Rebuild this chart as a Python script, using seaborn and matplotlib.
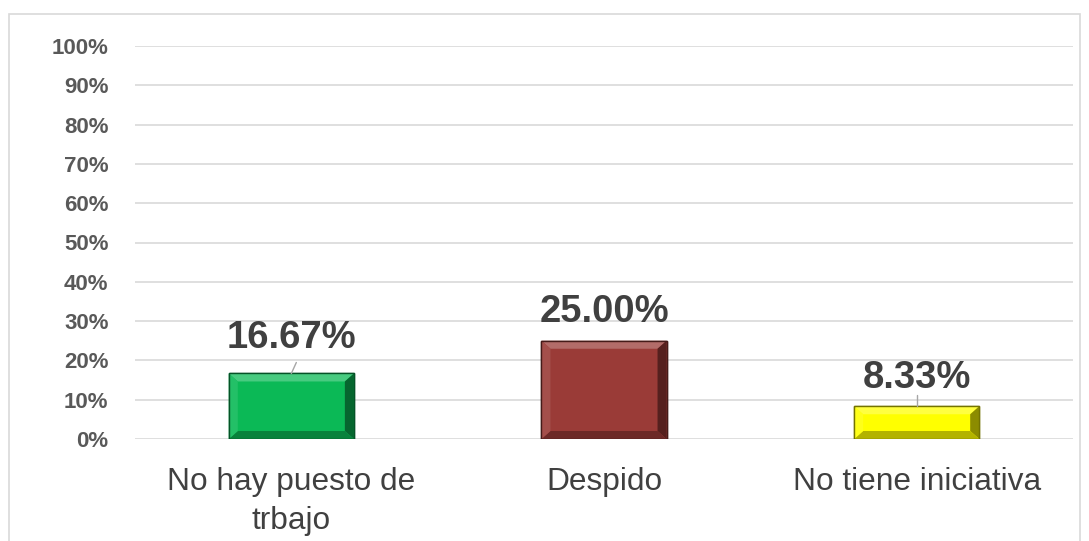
import seaborn as sns
import pandas as pd
import matplotlib.pyplot as plt
from matplotlib.patches import Rectangle, Polygon
import matplotlib.colors as mcolors

categorias = ["No hay puesto de\ntrbajo", "Despido", "No tiene iniciativa"]
valores = [0.1667, 0.25, 0.0833]
etiquetas = ["16.67%", "25.00%", "8.33%"]
colores = ["#0BB956", "#9A3B37", "#FFFF00"]
ticks_y = [i / 10 for i in range(11)]
# altura del centro de cada etiqueta de datos
pos_etiquetas = [0.258, 0.324, 0.156]
con_guia = [True, False, True]

df = pd.DataFrame({"cat": categorias, "val": valores})

sns.set_style("white")
plt.rcParams["font.family"] = ["Liberation Sans", "DejaVu Sans"]

fig = plt.figure(figsize=(10.89, 5.41), dpi=100)
# marco exterior gris claro
fig.patches.append(Rectangle((9 / 1089, -0.01), 1071 / 1089, (541 - 14) / 541 + 0.01,
                             transform=fig.transFigure, fill=False,
                             edgecolor="#D9D9D9", linewidth=1.2))

ax = fig.add_axes([135 / 1089, (541 - 439) / 541, 938 / 1089, 393 / 541])
sns.barplot(data=df, x="cat", y="val", hue="cat", palette=colores, saturation=1,
            legend=False, width=0.4, ax=ax, zorder=3)
ax.set_xlim(-0.5, 2.5)
ax.set_ylim(0, 1)


def tono(c, f):
    r, g, b = mcolors.to_rgb(c)
    if f >= 0:
        return (r + (1 - r) * f, g + (1 - g) * f, b + (1 - b) * f)
    return (r * (1 + f), g * (1 + f), b * (1 + f))


# efecto biselado
bx = 9 / 312.5
by = 8 / 393
for barra, c in zip(list(ax.patches), colores):
    x0, y0 = barra.get_x(), barra.get_y()
    x1, y1 = x0 + barra.get_width(), y0 + barra.get_height()
    barra.set_edgecolor(tono(c, -0.55))
    barra.set_linewidth(1.0)
    caras = [
        ([(x0, y1), (x1, y1), (x1 - bx, y1 - by), (x0 + bx, y1 - by)], tono(c, 0.25)),
        ([(x1, y1), (x1, y0), (x1 - bx, y0 + by), (x1 - bx, y1 - by)], tono(c, -0.45)),
        ([(x0, y0), (x1, y0), (x1 - bx, y0 + by), (x0 + bx, y0 + by)], tono(c, -0.3)),
        ([(x0, y0), (x0, y1), (x0 + bx, y1 - by), (x0 + bx, y0 + by)], tono(c, 0.1)),
    ]
    for pts, col in caras:
        ax.add_patch(Polygon(pts, closed=True, facecolor=col, edgecolor="none", zorder=3.5))
    ax.add_patch(Rectangle((x0, y0), x1 - x0, y1 - y0, fill=False,
                           edgecolor=tono(c, -0.55), linewidth=1.0, zorder=3.6))

ax.set_yticks(ticks_y)
ax.set_yticklabels([f"{int(t * 100)}%" for t in ticks_y],
                   fontsize=16, fontweight="bold", color="#595959")
ax.tick_params(axis="y", length=0, pad=19)
ax.tick_params(axis="x", length=0, pad=20, labelsize=22.8, labelcolor="#404040")
for lbl in ax.get_xticklabels():
    lbl.set_linespacing(1.38)
ax.yaxis.grid(True, color="#D9D9D9", linewidth=1.2, zorder=0)
ax.set_xlabel("")
ax.set_ylabel("")
for s in ax.spines.values():
    s.set_visible(False)

# etiquetas de datos y lineas guia
for i, (v, txt, ty, guia) in enumerate(zip(valores, etiquetas, pos_etiquetas, con_guia)):
    ax.text(i, ty, txt, ha="center", va="center", fontsize=27.5,
            fontweight="bold", color="#404040", zorder=4)
    if guia:
        ax.plot([i, i + (0.016 if i == 0 else 0)], [v, v + 0.028],
                color="#A6A6A6", linewidth=1, zorder=4)

fig.savefig("out.png", dpi=100)
